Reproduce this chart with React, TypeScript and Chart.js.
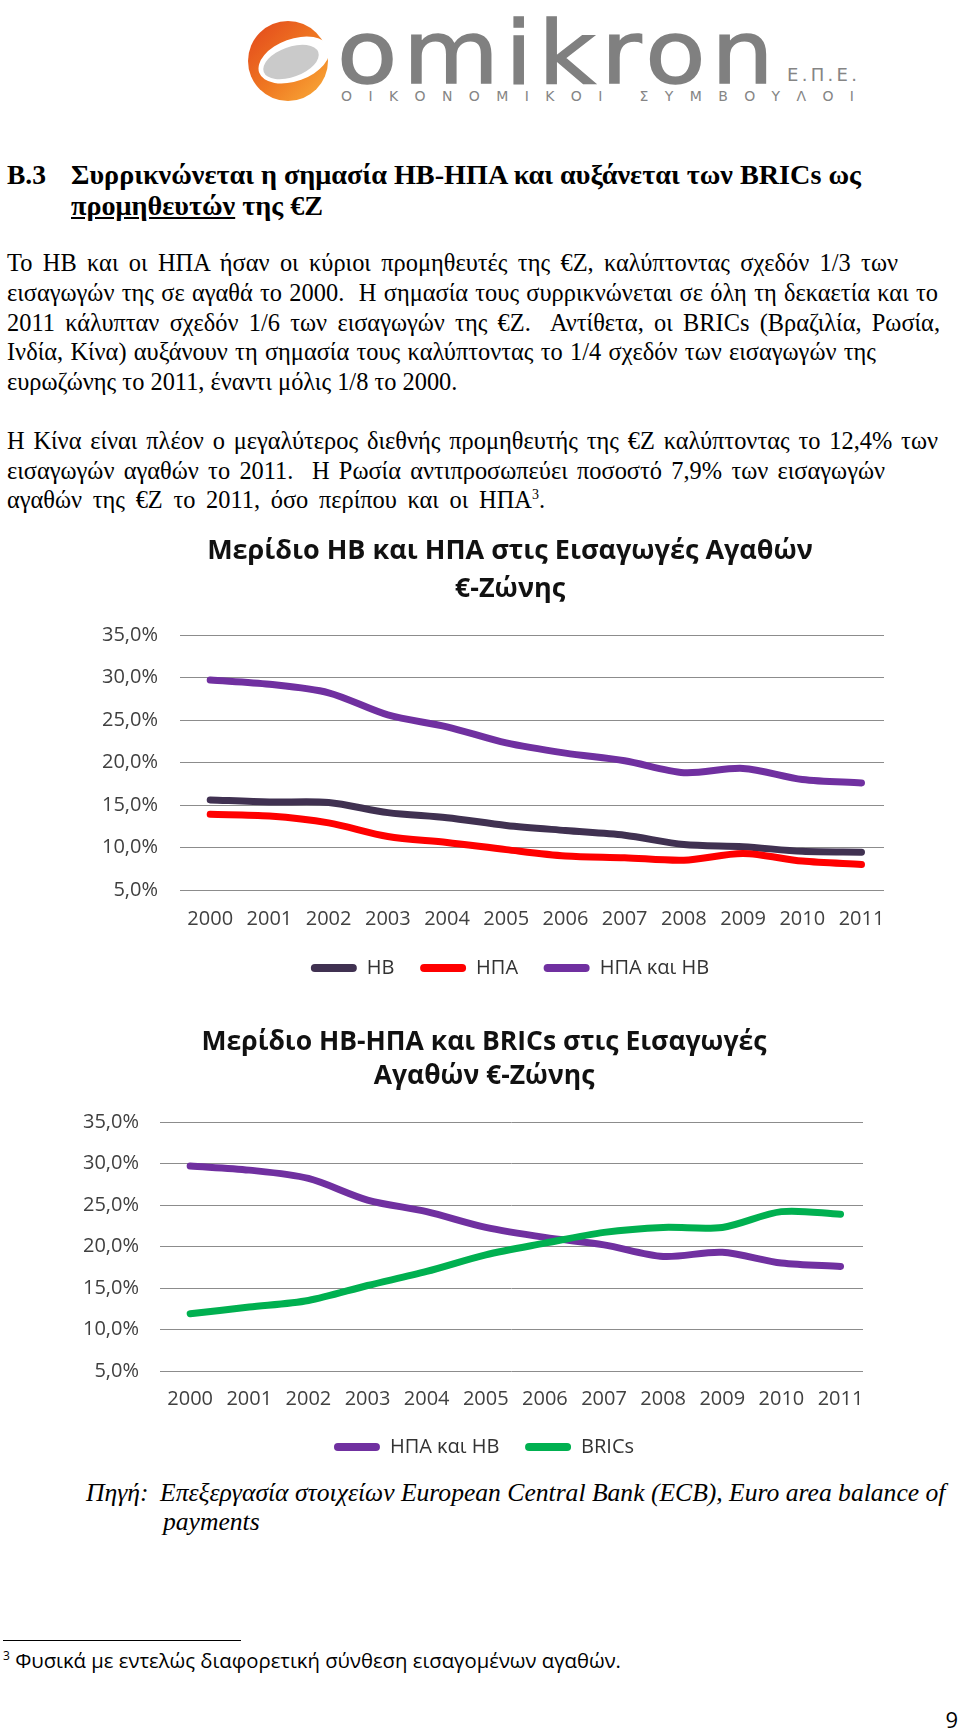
import React, { useEffect, useRef } from 'react';
import { Chart, registerables } from 'chart.js';

Chart.register(...registerables);

// ---------- data ----------
const years = ['2000', '2001', '2002', '2003', '2004', '2005', '2006', '2007', '2008', '2009', '2010', '2011'];
const hbShare = [15.6, 15.35, 15.3, 14.1, 13.5, 12.6, 12.0, 11.45, 10.35, 10.1, 9.55, 9.45];
const usShare = [13.9, 13.7, 12.9, 11.3, 10.6, 9.75, 9.0, 8.8, 8.5, 9.3, 8.4, 8.0];
const usHbShare = [29.7, 29.2, 28.2, 25.6, 24.2, 22.3, 21.1, 20.2, 18.8, 19.3, 18.0, 17.6];
const bricsShare = [11.9, 12.7, 13.5, 15.3, 17.0, 19.0, 20.4, 21.7, 22.3, 22.3, 24.2, 23.9];
const yMin = 5;
const yMax = 35;
const yStep = 5;

const chart1Title = ['Μερίδιο ΗΒ και ΗΠΑ στις Εισαγωγές Αγαθών', '€-Ζώνης'];
const chart2Title = ['Μερίδιο ΗΒ-ΗΠΑ και BRICs στις Εισαγωγές', 'Αγαθών €-Ζώνης'];
const labelHB = 'ΗΒ';
const labelUS = 'ΗΠΑ';
const labelUSHB = 'ΗΠΑ και ΗΒ';
const labelBRICs = 'BRICs';

const COLORS = { hb: '#403151', us: '#FF0000', usHb: '#7030A0', brics: '#00B050' };

const SERIF = "'Liberation Serif', 'Times New Roman', serif";
const SANS = "'Open Sans', 'Noto Sans', sans-serif";

interface SeriesDef { label: string; data: number[]; color: string }
interface Box {
  left: number; top: number; width: number; height: number;
  yAxisWidth: number; rightWidth: number; yLabelPad: number; xLabelPad: number;
  titleSize: number; titleLine: number; titlePadTop: number; titlePadBottom: number; legendPad: number;
}

function LineChart({ title, series, box }: { title: string[]; series: SeriesDef[]; box: Box }) {
  const ref = useRef<HTMLCanvasElement>(null);
  useEffect(() => {
    const canvas = ref.current;
    if (!canvas) return;
    const tickFont = { family: SANS, size: 20 };
    const chart = new Chart(canvas, {
      type: 'line',
      data: {
        labels: years,
        datasets: series.map((s, i) => ({
          label: s.label,
          data: s.data,
          borderColor: s.color,
          backgroundColor: s.color,
          borderWidth: 7,
          borderCapStyle: 'round',
          borderJoinStyle: 'round',
          tension: 0.3,
          pointRadius: 0,
          pointHoverRadius: 0,
          fill: false,
          order: series.length - i,
        })),
      },
      options: {
        responsive: false,
        animation: false,
        devicePixelRatio: 1,
        layout: { padding: 0 },
        plugins: {
          tooltip: { enabled: false },
          title: {
            display: true,
            text: title,
            color: '#111111',
            font: { family: SANS, size: box.titleSize, weight: 'bold', lineHeight: box.titleLine / box.titleSize },
            padding: { top: box.titlePadTop, bottom: box.titlePadBottom },
          },
          legend: {
            display: true,
            position: 'bottom',
            labels: {
              boxWidth: 46,
              boxHeight: 8,
              padding: box.legendPad,
              color: '#333333',
              font: { family: SANS, size: 20 },
              sort: (a: any, b: any) => a.datasetIndex - b.datasetIndex,
              generateLabels: (c: any) => {
                const items = (Chart.defaults.plugins.legend.labels as any).generateLabels(c);
                return items.map((l: any) => ({
                  ...l,
                  text: l.datasetIndex < series.length - 1 ? l.text + '   ' : l.text,
                  fillStyle: l.strokeStyle,
                  lineWidth: 0,
                  borderRadius: 4,
                }));
              },
            },
          },
        },
        scales: {
          x: {
            type: 'linear',
            min: 1999.49,
            max: 2011.38,
            grid: { display: false, drawTicks: false },
            border: { display: false },
            afterBuildTicks: (s: any) => {
              s.ticks = years.map((y) => ({ value: Number(y) }));
            },
            ticks: {
              autoSkip: false,
              maxRotation: 0,
              padding: box.xLabelPad,
              color: '#404040',
              font: tickFont,
              callback: (v: any) => String(v),
            },
          },
          y: {
            min: yMin,
            max: yMax,
            grid: { color: '#8c8c8c', lineWidth: 1, drawTicks: false },
            border: { display: false },
            ticks: {
              stepSize: yStep,
              padding: box.yLabelPad,
              color: '#404040',
              font: tickFont,
              callback: (v: any) => Number(v).toFixed(1).replace('.', ',') + '%',
            },
            afterFit: (s: any) => {
              s.width = box.yAxisWidth;
            },
          },
          yR: {
            position: 'right',
            display: true,
            grid: { display: false, drawTicks: false },
            border: { display: false },
            ticks: { display: false },
            afterFit: (s: any) => {
              s.width = box.rightWidth;
            },
          },
        },
      } as any,
    });
    return () => chart.destroy();
  }, []);
  return (
    <canvas
      ref={ref}
      width={box.width}
      height={box.height}
      style={{ position: 'absolute', left: box.left, top: box.top }}
    />
  );
}

function Logo() {
  return (
    <svg width={960} height={120} style={{ position: 'absolute', left: 0, top: 0 }}>
      <defs>
        <linearGradient id="omk" x1="0" y1="0" x2="1" y2="1">
          <stop offset="0" stopColor="#E2461C" />
          <stop offset="0.55" stopColor="#F07A22" />
          <stop offset="1" stopColor="#F9AE3B" />
        </linearGradient>
      </defs>
      <circle cx={288} cy={61} r={40} fill="url(#omk)" />
      <ellipse cx={294} cy={60} rx={37} ry={21} transform="rotate(-20 294 60)" fill="#ffffff" />
      <ellipse cx={291} cy={62} rx={29} ry={15} transform="rotate(-20 291 62)" fill="#CACACA" />
      <g transform="translate(337 83) scale(1.12 1)">
        <text x={0} y={0} fontFamily="'DejaVu Sans', sans-serif" fontSize={88} fill="#808080" stroke="#808080" strokeWidth={1.5} textLength={390} lengthAdjust="spacing">omikron</text>
      </g>
      <text x={787} y={81} fontFamily="'DejaVu Sans', sans-serif" fontSize={18} fill="#858585" textLength={70} lengthAdjust="spacing">Ε.Π.Ε.</text>
      <text x={341} y={101} fontFamily="'DejaVu Sans', sans-serif" fontSize={14} fill="#858585" textLength={513} lengthAdjust="spacing">ΟΙΚΟΝΟΜΙΚΟΙ ΣΥΜΒΟΥΛΟΙ</text>
    </svg>
  );
}

// one text line, justified to reach a given right edge
function TL({ x, y, right, size = 24.4, lh = 30, style, children }: any) {
  const just = right !== undefined;
  return (
    <div
      style={{
        position: 'absolute',
        left: x,
        top: y,
        width: just ? right - x : undefined,
        fontFamily: SERIF,
        fontSize: size,
        lineHeight: lh + 'px',
        whiteSpace: 'nowrap',
        textAlign: just ? 'justify' : 'left',
        textAlignLast: just ? 'justify' : 'auto',
        color: '#000',
        ...style,
      }}
    >
      {children}
    </div>
  );
}

const NB = '\u00a0';
const bodyLines = [
  'Το ΗΒ και οι ΗΠΑ ήσαν οι κύριοι προμηθευτές της €Ζ, καλύπτοντας σχεδόν 1/3 των',
  'εισαγωγών της σε αγαθά το 2000.' + NB + ' Η σημασία τους συρρικνώνεται σε όλη τη δεκαετία και το',
  '2011 κάλυπταν σχεδόν 1/6 των εισαγωγών της €Ζ.' + NB + ' Αντίθετα, οι BRICs (Βραζιλία, Ρωσία,',
  'Ινδία, Κίνα) αυξάνουν τη σημασία τους καλύπτοντας το 1/4 σχεδόν των εισαγωγών της',
  'ευρωζώνης το 2011, έναντι μόλις 1/8 το 2000.',
  'Η Κίνα είναι πλέον ο μεγαλύτερος διεθνής προμηθευτής της €Ζ καλύπτοντας το 12,4% των',
  'εισαγωγών αγαθών το 2011.' + NB + ' Η Ρωσία αντιπροσωπεύει ποσοστό 7,9% των εισαγωγών',
];
const bodyTops = [248, 278, 308, 337, 367, 426, 456, 485];
const bodyRights = [898, 938, 940, 876, 448, 938, 885, 545];

export default function App() {
  return (
    <div
      style={{
        position: 'absolute',
        left: 0,
        top: 0,
        width: 960,
        height: 1734,
        background: '#ffffff',
        overflow: 'hidden',
      }}
    >
      <Logo />

      <TL x={7} y={159} size={27.5} lh={32} style={{ fontWeight: 'bold' }}>B.3</TL>
      <TL x={71} y={159} size={28.2} lh={32} style={{ fontWeight: 'bold' }}>
        Συρρικνώνεται η σημασία ΗΒ-ΗΠΑ και αυξάνεται των BRICs ως
      </TL>
      <TL x={71} y={190} size={28.2} lh={32} style={{ fontWeight: 'bold' }}>
        <span style={{ textDecoration: 'underline' }}>προμηθευτών</span> της €Ζ
      </TL>

      {bodyLines.map((t, i) => (
        <TL key={'b' + i} x={7} y={bodyTops[i]} right={bodyRights[i]}>{t}</TL>
      ))}
      <TL x={7} y={bodyTops[7]} right={bodyRights[7]}>
        αγαθών της €Ζ το 2011, όσο περίπου και οι ΗΠΑ<sup style={{ fontSize: 14, lineHeight: 0 }}>3</sup>.
      </TL>

      <LineChart
        title={chart1Title}
        series={[
          { label: labelHB, data: hbShare, color: COLORS.hb },
          { label: labelUS, data: usShare, color: COLORS.us },
          { label: labelUSHB, data: usHbShare, color: COLORS.usHb },
        ]}
        box={{
          left: 90, top: 520, width: 840, height: 468,
          yAxisWidth: 90, rightWidth: 46, yLabelPad: 22, xLabelPad: 17,
          titleSize: 27, titleLine: 38, titlePadTop: 12, titlePadBottom: 27, legendPad: 10,
        }}
      />
      <LineChart
        title={chart2Title}
        series={[
          { label: labelUSHB, data: usHbShare, color: COLORS.usHb },
          { label: labelBRICs, data: bricsShare, color: COLORS.brics },
        ]}
        box={{
          left: 70, top: 1010, width: 828, height: 457,
          yAxisWidth: 90, rightWidth: 35, yLabelPad: 21, xLabelPad: 16,
          titleSize: 26.5, titleLine: 34, titlePadTop: 15, titlePadBottom: 29, legendPad: 10,
        }}
      />

      <TL x={86} y={1478} size={25.6} style={{ fontStyle: 'italic' }}>Πηγή:</TL>
      <TL x={160} y={1478} size={25.6} style={{ fontStyle: 'italic' }}>
        Επεξεργασία στοιχείων European Central Bank (ECB), Euro area balance of
      </TL>
      <TL x={163} y={1507} size={25.6} style={{ fontStyle: 'italic' }}>payments</TL>

      <div style={{ position: 'absolute', left: 3, top: 1640, width: 238, height: 1, background: '#000' }} />
      <div
        style={{
          position: 'absolute',
          left: 3,
          top: 1647,
          fontFamily: SANS,
          fontSize: 20.3,
          lineHeight: '26px',
          whiteSpace: 'pre',
          color: '#000',
        }}
      >
        <sup style={{ fontSize: 12, lineHeight: 0 }}>3</sup> Φυσικά με εντελώς διαφορετική σύνθεση εισαγομένων αγαθών.
      </div>
      <div
        style={{
          position: 'absolute',
          right: 2,
          top: 1705,
          fontFamily: SANS,
          fontSize: 22,
          lineHeight: '28px',
          color: '#000',
        }}
      >
        9
      </div>
    </div>
  );
}
